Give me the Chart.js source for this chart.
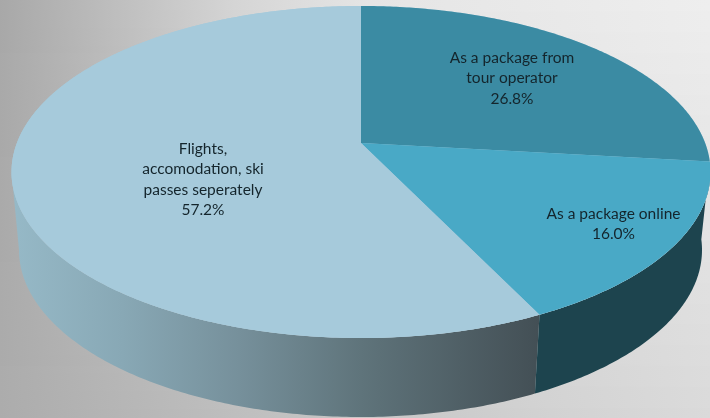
<!doctype html>
<html>

<head>
	<title>Pie Chart</title>
	<script src="https://cdn.jsdelivr.net/npm/chart.js@4/dist/chart.umd.js"></script>
	<style>
		html, body { margin: 0; padding: 0; overflow: hidden; }
		canvas { display: block; }
	</style>
</head>

<body>
	<canvas id="chart-area" width="710" height="418"></canvas>
	<script>
		const categories = [
			['As a package from', 'tour operator'],
			['As a package online'],
			['Flights,', 'accomodation, ski', 'passes seperately']
		];
		const values = [26.8, 16.0, 57.2];
		const topColors = ['#3b8ba3', '#49a9c6', '#a6cadb'];

		// top face and bottom rim of the disc, as seen on screen
		const topRim = { x: 361, y: 172, rx: 349.5, ry: 166 };
		const bottomRim = { x: 360.5, y: 250, rx: 341.5, ry: 167 };
		const tilt = -0.175; // moves the pie centre up from the ellipse centre

		// circle -> ellipse with a perspective shift, so the wedges fan out from the far-off centre
		function project(angle, rim) {
			const u = Math.cos(angle);
			const v = Math.sin(angle);
			const d = 1 + tilt * v;
			return {
				x: rim.x + rim.rx * u * Math.sqrt(1 - tilt * tilt) / d,
				y: rim.y + rim.ry * (v + tilt) / d
			};
		}

		function arcPoints(start, end, rim) {
			const steps = Math.max(2, Math.ceil((end - start) * 90));
			const pts = [];
			for (let i = 0; i <= steps; i++) {
				pts.push(project(start + (end - start) * i / steps, rim));
			}
			return pts;
		}

		function tracePoints(ctx, pts) {
			ctx.beginPath();
			pts.forEach((p, i) => (i ? ctx.lineTo(p.x, p.y) : ctx.moveTo(p.x, p.y)));
			ctx.closePath();
		}

		function lerp(a, b, t) {
			return a + (b - a) * t;
		}

		const backgroundPlugin = {
			id: 'background',
			beforeDraw(chart) {
				const ctx = chart.ctx;
				const w = chart.width;
				const h = chart.height;
				const top = [[0, 168], [0.33, 213], [0.52, 229], [1, 238]];
				const bottom = [[0, 172], [0.33, 190], [0.78, 210], [1, 218]];
				for (let y = 0; y < h; y++) {
					const g = ctx.createLinearGradient(0, 0, w, 0);
					top.forEach((s, i) => {
						const c = Math.round(lerp(s[1], bottom[i][1], y / h));
						g.addColorStop(lerp(s[0], bottom[i][0], y / h), `rgb(${c},${c},${c})`);
					});
					ctx.fillStyle = g;
					ctx.fillRect(0, y, w, 1);
				}
			}
		};

		const disc3dPlugin = {
			id: 'disc3d',
			beforeDatasetDraw(chart) {
				const ctx = chart.ctx;
				const arcs = chart.getDatasetMeta(0).data;
				ctx.save();

				// side walls, only the two front slices show; stop at the left tangent of the rim
				const leftTangent = Math.PI - Math.asin(-tilt);
				const shade = ctx.createLinearGradient(12, 0, 540, 0);
				shade.addColorStop(0, '#96b9c7');
				shade.addColorStop(0.21, '#88a8b5');
				shade.addColorStop(0.43, '#76909b');
				shade.addColorStop(0.66, '#5f747b');
				shade.addColorStop(1, '#434f55');
				[[2, shade], [1, '#1d444e']].forEach(([i, fill]) => {
					const a = arcs[i];
					const end = Math.min(a.endAngle, leftTangent);
					const upper = arcPoints(a.startAngle, end, topRim);
					const lower = arcPoints(a.startAngle, end, bottomRim).reverse();
					tracePoints(ctx, upper.concat(lower));
					ctx.fillStyle = fill;
					ctx.fill();
				});

				// top face
				tracePoints(ctx, arcPoints(0, Math.PI * 2, topRim));
				ctx.fillStyle = topColors[2];
				ctx.fill();
				const apex = { x: topRim.x, y: topRim.y + topRim.ry * tilt };
				arcs.forEach((a, i) => {
					tracePoints(ctx, [apex].concat(arcPoints(a.startAngle, a.endAngle, topRim)));
					ctx.fillStyle = topColors[i];
					ctx.fill();
				});
				ctx.restore();
				return false; // wedges are done, skip the flat ones
			},
			afterDatasetsDraw(chart) {
				const ctx = chart.ctx;
				const anchors = [[512, 58], [613.5, 214], [203, 149]];
				ctx.save();
				ctx.font = '15.5px Lato';
				ctx.fillStyle = '#14252c';
				ctx.textAlign = 'center';
				ctx.textBaseline = 'middle';
				categories.forEach((lines, i) => {
					const all = lines.concat(values[i].toFixed(1) + '%');
					all.forEach((line, n) => {
						ctx.fillText(line, anchors[i][0], anchors[i][1] + n * 20.3);
					});
				});
				ctx.restore();
			}
		};

		new Chart(document.getElementById('chart-area').getContext('2d'), {
			type: 'pie',
			data: {
				labels: categories,
				datasets: [{ data: values, backgroundColor: topColors, borderWidth: 0 }]
			},
			options: {
				responsive: false,
				animation: false,
				plugins: {
					legend: { display: false },
					tooltip: { enabled: false }
				}
			},
			plugins: [backgroundPlugin, disc3dPlugin]
		});
	</script>
</body>

</html>
